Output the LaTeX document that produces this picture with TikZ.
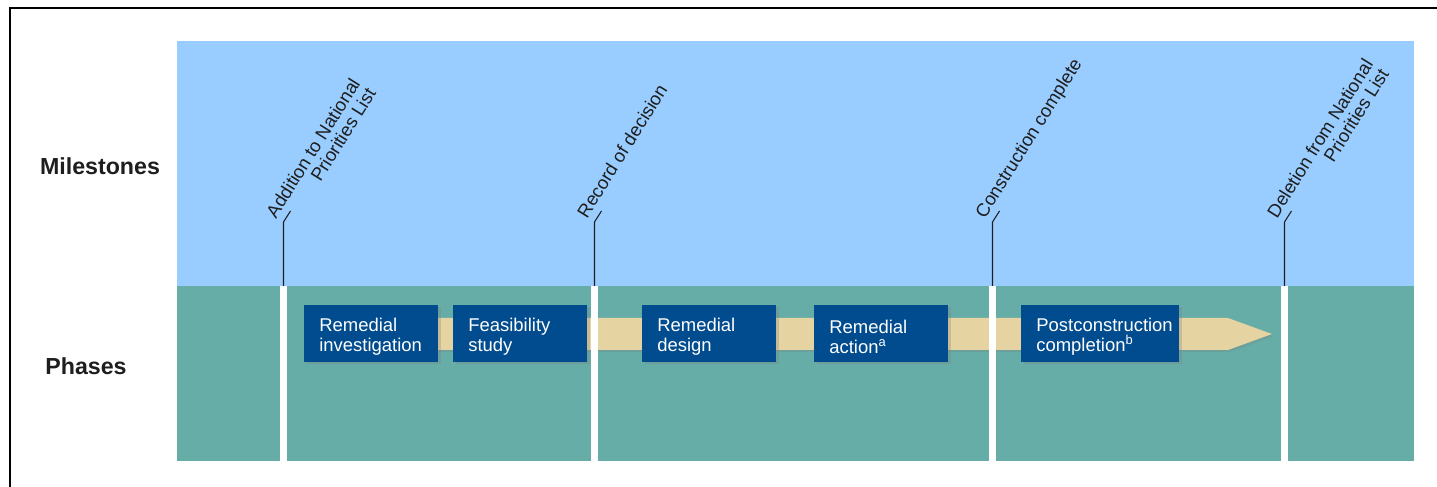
\documentclass[tikz,border=0pt]{standalone}
\usepackage{fontspec}
\setmainfont{Liberation Sans}
\usetikzlibrary{calc,shadows}
\definecolor{skyband}{RGB}{153,204,255}
\definecolor{tealband}{RGB}{102,172,167}
\definecolor{phaseblue}{RGB}{0,76,143}
\definecolor{tanband}{RGB}{229,212,161}
\definecolor{inkgray}{RGB}{30,30,30}
\tikzset{
  phasebox/.style={fill=phaseblue,text=white,anchor=south west,minimum height=1.14cm,
    text width=2.08cm,inner xsep=0.3cm,inner ysep=0pt,align=left,
    font=\fontsize{10.5}{11.5}\selectfont,
    execute at begin node={\rule{0pt}{11.5pt}},
    drop shadow={opacity=0.3,shadow xshift=0.05cm,shadow yshift=-0.05cm}},
  stonelabel/.style={rotate=58,anchor=north west,inner sep=0pt,align=right,
    text=inkgray,font=\fontsize{10.5}{10.5}\selectfont},
  stoneline/.style={draw=inkgray,line width=0.6pt},
  rowhead/.style={text=inkgray,font=\bfseries\fontsize{13.2}{15}\selectfont},
  gap/.style={fill=white}
}
\begin{document}
\begin{tikzpicture}
\useasboundingbox (0,0) rectangle (28.74,9.74);
\fill[white] (0,0) rectangle (28.74,9.74);
\draw[line width=1.1pt] (0.2,0) -- (0.2,9.58) -- (28.74,9.58);
\fill[skyband] (3.54,4.02) rectangle (28.28,8.92);
\fill[tealband] (3.54,0.52) rectangle (28.28,4.02);
\node[rowhead] (miles) at (2.0,6.42) {Milestones};
\node[rowhead] (phases) at (1.72,2.42) {Phases};
\fill[tanband,drop shadow={opacity=0.25,shadow xshift=0.04cm,shadow yshift=-0.04cm}]
  (6.08,2.74) -- (24.56,2.74) -- (25.44,3.06) -- (24.56,3.38) -- (6.08,3.38) -- cycle;
\fill[gap] (5.60,0.52) rectangle (5.74,4.02);
\fill[gap] (11.82,0.52) rectangle (11.96,4.02);
\fill[gap] (19.78,0.52) rectangle (19.92,4.02);
\fill[gap] (25.62,0.52) rectangle (25.76,4.02);
\node[phasebox] (ri) at (6.08,2.5) {Remedial\\investigation};
\node[phasebox] (fs) at (9.06,2.5) {Feasibility\\study};
\node[phasebox] (rd) at (12.84,2.5) {Remedial\\design};
\node[phasebox] (ra) at (16.28,2.5) {Remedial\\action\textsuperscript{a}};
\node[phasebox,text width=2.56cm] (pcc) at (20.42,2.5) {Postconstruction\\completion\textsuperscript{b}};
\coordinate (m1) at (5.67,4.02);
\coordinate (m2) at (11.89,4.02);
\coordinate (m3) at (19.85,4.02);
\coordinate (m4) at (25.69,4.02);
\draw[stoneline] (m1) -- ++(0,1.28) -- ++(0.14,0.22) coordinate (t1);
\draw[stoneline] (m2) -- ++(0,1.28) -- ++(0.14,0.22) coordinate (t2);
\draw[stoneline] (m3) -- ++(0,1.28) -- ++(0.14,0.22) coordinate (t3);
\draw[stoneline] (m4) -- ++(0,1.28) -- ++(0.14,0.22) coordinate (t4);
\node[stonelabel] (nadd) at ($(t1)+(58:-0.30)+(148:0.43)$) {Addition to National\\Priorities List};
\node[stonelabel] (rod) at ($(t2)+(58:-0.30)+(148:0.43)$) {Record of decision};
\node[stonelabel] (cc) at ($(t3)+(58:-0.30)+(148:0.43)$) {Construction complete};
\node[stonelabel] (ndel) at ($(t4)+(58:-0.30)+(148:0.43)$) {Deletion from National\\Priorities List};
\end{tikzpicture}
\end{document}
